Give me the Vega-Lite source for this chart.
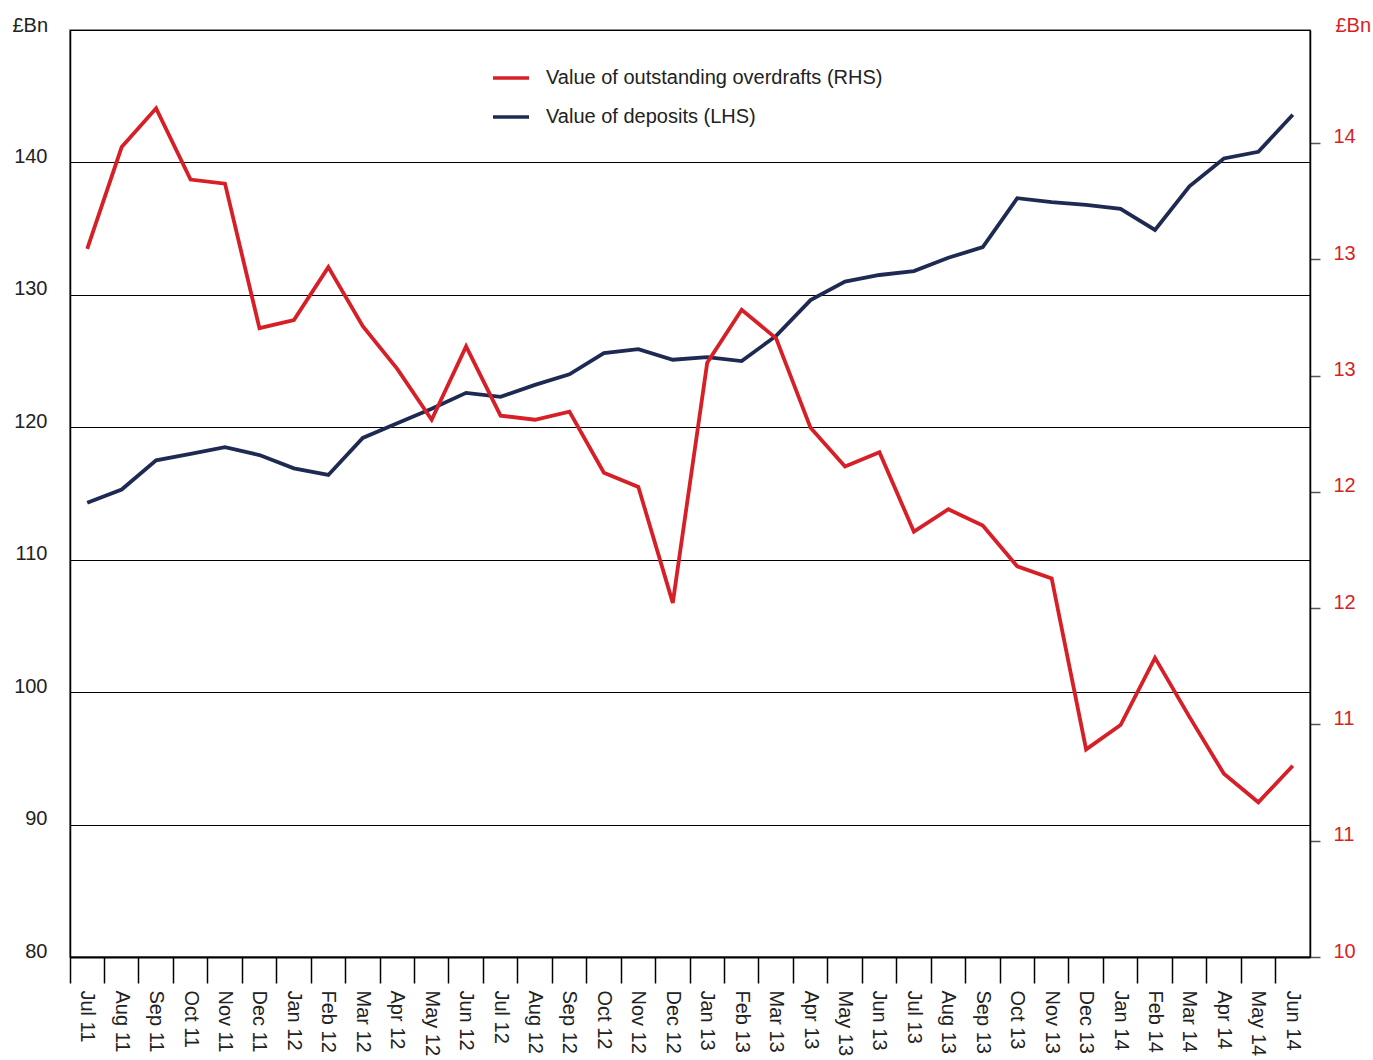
{
  "$schema": "https://vega.github.io/schema/vega-lite/v6.json",
  "width": 1240,
  "height": 927,
  "autosize": {"type": "none"},
  "padding": {"left": 70, "top": 30, "right": 63, "bottom": 103},
  "background": "#ffffff",
  "config": {
    "font": "Liberation Sans",
    "view": {"stroke": "#666666", "strokeWidth": 1.5}
  },
  "data": {
    "values": [
      {"month": "Jul 11", "series": "Value of deposits (LHS)", "value": 114.3},
      {"month": "Aug 11", "series": "Value of deposits (LHS)", "value": 115.3},
      {"month": "Sep 11", "series": "Value of deposits (LHS)", "value": 117.5},
      {"month": "Oct 11", "series": "Value of deposits (LHS)", "value": 118.0},
      {"month": "Nov 11", "series": "Value of deposits (LHS)", "value": 118.5},
      {"month": "Dec 11", "series": "Value of deposits (LHS)", "value": 117.9},
      {"month": "Jan 12", "series": "Value of deposits (LHS)", "value": 116.9},
      {"month": "Feb 12", "series": "Value of deposits (LHS)", "value": 116.4},
      {"month": "Mar 12", "series": "Value of deposits (LHS)", "value": 119.2},
      {"month": "Apr 12", "series": "Value of deposits (LHS)", "value": 120.3},
      {"month": "May 12", "series": "Value of deposits (LHS)", "value": 121.4},
      {"month": "Jun 12", "series": "Value of deposits (LHS)", "value": 122.6},
      {"month": "Jul 12", "series": "Value of deposits (LHS)", "value": 122.3},
      {"month": "Aug 12", "series": "Value of deposits (LHS)", "value": 123.2},
      {"month": "Sep 12", "series": "Value of deposits (LHS)", "value": 124.0},
      {"month": "Oct 12", "series": "Value of deposits (LHS)", "value": 125.6},
      {"month": "Nov 12", "series": "Value of deposits (LHS)", "value": 125.9},
      {"month": "Dec 12", "series": "Value of deposits (LHS)", "value": 125.1},
      {"month": "Jan 13", "series": "Value of deposits (LHS)", "value": 125.3},
      {"month": "Feb 13", "series": "Value of deposits (LHS)", "value": 125.0},
      {"month": "Mar 13", "series": "Value of deposits (LHS)", "value": 126.9},
      {"month": "Apr 13", "series": "Value of deposits (LHS)", "value": 129.6},
      {"month": "May 13", "series": "Value of deposits (LHS)", "value": 131.0},
      {"month": "Jun 13", "series": "Value of deposits (LHS)", "value": 131.5},
      {"month": "Jul 13", "series": "Value of deposits (LHS)", "value": 131.8},
      {"month": "Aug 13", "series": "Value of deposits (LHS)", "value": 132.8},
      {"month": "Sep 13", "series": "Value of deposits (LHS)", "value": 133.6},
      {"month": "Oct 13", "series": "Value of deposits (LHS)", "value": 137.3},
      {"month": "Nov 13", "series": "Value of deposits (LHS)", "value": 137.0},
      {"month": "Dec 13", "series": "Value of deposits (LHS)", "value": 136.8},
      {"month": "Jan 14", "series": "Value of deposits (LHS)", "value": 136.5},
      {"month": "Feb 14", "series": "Value of deposits (LHS)", "value": 134.9},
      {"month": "Mar 14", "series": "Value of deposits (LHS)", "value": 138.2},
      {"month": "Apr 14", "series": "Value of deposits (LHS)", "value": 140.3},
      {"month": "May 14", "series": "Value of deposits (LHS)", "value": 140.8},
      {"month": "Jun 14", "series": "Value of deposits (LHS)", "value": 143.6},
      {"month": "Jul 11", "series": "Value of outstanding overdrafts (RHS)", "value": 13.48},
      {"month": "Aug 11", "series": "Value of outstanding overdrafts (RHS)", "value": 13.98},
      {"month": "Sep 11", "series": "Value of outstanding overdrafts (RHS)", "value": 14.17},
      {"month": "Oct 11", "series": "Value of outstanding overdrafts (RHS)", "value": 13.82},
      {"month": "Nov 11", "series": "Value of outstanding overdrafts (RHS)", "value": 13.80},
      {"month": "Dec 11", "series": "Value of outstanding overdrafts (RHS)", "value": 13.09},
      {"month": "Jan 12", "series": "Value of outstanding overdrafts (RHS)", "value": 13.13},
      {"month": "Feb 12", "series": "Value of outstanding overdrafts (RHS)", "value": 13.39},
      {"month": "Mar 12", "series": "Value of outstanding overdrafts (RHS)", "value": 13.10},
      {"month": "Apr 12", "series": "Value of outstanding overdrafts (RHS)", "value": 12.89},
      {"month": "May 12", "series": "Value of outstanding overdrafts (RHS)", "value": 12.64},
      {"month": "Jun 12", "series": "Value of outstanding overdrafts (RHS)", "value": 13.00},
      {"month": "Jul 12", "series": "Value of outstanding overdrafts (RHS)", "value": 12.66},
      {"month": "Aug 12", "series": "Value of outstanding overdrafts (RHS)", "value": 12.64},
      {"month": "Sep 12", "series": "Value of outstanding overdrafts (RHS)", "value": 12.68},
      {"month": "Oct 12", "series": "Value of outstanding overdrafts (RHS)", "value": 12.38},
      {"month": "Nov 12", "series": "Value of outstanding overdrafts (RHS)", "value": 12.31},
      {"month": "Dec 12", "series": "Value of outstanding overdrafts (RHS)", "value": 11.74},
      {"month": "Jan 13", "series": "Value of outstanding overdrafts (RHS)", "value": 12.92},
      {"month": "Feb 13", "series": "Value of outstanding overdrafts (RHS)", "value": 13.18},
      {"month": "Mar 13", "series": "Value of outstanding overdrafts (RHS)", "value": 13.04},
      {"month": "Apr 13", "series": "Value of outstanding overdrafts (RHS)", "value": 12.60},
      {"month": "May 13", "series": "Value of outstanding overdrafts (RHS)", "value": 12.41},
      {"month": "Jun 13", "series": "Value of outstanding overdrafts (RHS)", "value": 12.48},
      {"month": "Jul 13", "series": "Value of outstanding overdrafts (RHS)", "value": 12.09},
      {"month": "Aug 13", "series": "Value of outstanding overdrafts (RHS)", "value": 12.20},
      {"month": "Sep 13", "series": "Value of outstanding overdrafts (RHS)", "value": 12.12},
      {"month": "Oct 13", "series": "Value of outstanding overdrafts (RHS)", "value": 11.92},
      {"month": "Nov 13", "series": "Value of outstanding overdrafts (RHS)", "value": 11.86},
      {"month": "Dec 13", "series": "Value of outstanding overdrafts (RHS)", "value": 11.02},
      {"month": "Jan 14", "series": "Value of outstanding overdrafts (RHS)", "value": 11.14},
      {"month": "Feb 14", "series": "Value of outstanding overdrafts (RHS)", "value": 11.47},
      {"month": "Mar 14", "series": "Value of outstanding overdrafts (RHS)", "value": 11.18},
      {"month": "Apr 14", "series": "Value of outstanding overdrafts (RHS)", "value": 10.90},
      {"month": "May 14", "series": "Value of outstanding overdrafts (RHS)", "value": 10.76},
      {"month": "Jun 14", "series": "Value of outstanding overdrafts (RHS)", "value": 10.94}
    ]
  },
  "encoding": {
    "x": {
      "field": "month",
      "type": "nominal",
      "sort": null,
      "scale": {"type": "band", "paddingInner": 0, "paddingOuter": 0},
      "axis": {
        "title": null,
        "bandPosition": 0,
        "labelAngle": 90,
        "labelAlign": "left",
        "labelBaseline": "middle",
        "labelPadding": 7,
        "labelFontSize": 20,
        "labelColor": "#222222",
        "labelFont": "Liberation Sans",
        "tickSize": 26,
        "tickColor": "#000000",
        "tickWidth": 1.5,
        "domainColor": "#000000",
        "domainWidth": 2,
        "grid": false
      }
    },
    "color": {
      "field": "series",
      "type": "nominal",
      "scale": {
        "domain": ["Value of outstanding overdrafts (RHS)", "Value of deposits (LHS)"],
        "range": ["#d71f27", "#1e2a52"]
      },
      "legend": {
        "title": null,
        "orient": "none",
        "legendX": 421,
        "legendY": 28,
        "padding": 0,
        "symbolType": "stroke",
        "symbolSize": 1296,
        "symbolStrokeWidth": 3.5,
        "labelFontSize": 20,
        "labelFont": "Liberation Sans",
        "labelColor": "#222222",
        "labelOffset": 15,
        "rowPadding": 9,
        "labelLimit": 600
      }
    }
  },
  "layer": [
    {
      "transform": [{"filter": "datum.series === 'Value of deposits (LHS)'"}],
      "mark": {"type": "line", "strokeWidth": 3.8},
      "encoding": {
        "y": {
          "field": "value",
          "type": "quantitative",
          "scale": {"domain": [80, 150], "nice": false, "zero": false},
          "axis": {
            "orient": "left",
            "values": [80, 90, 100, 110, 120, 130, 140, 150],
            "labelExpr": "datum.value == 150 ? '' : datum.label",
            "title": "£Bn",
            "titleAngle": 0,
            "titleAlign": "left",
            "titleBaseline": "alphabetic",
            "titleX": -58,
            "titleY": 1,
            "titleFontSize": 20,
            "titleFontWeight": "normal",
            "titleColor": "#222222",
            "titleFont": "Liberation Sans",
            "labelFontSize": 20,
            "labelColor": "#222222",
            "labelFont": "Liberation Sans",
            "labelBaseline": "alphabetic",
            "labelPadding": 23,
            "ticks": false,
            "grid": true,
            "gridColor": "#000000",
            "gridWidth": 1,
            "domainColor": "#000000",
            "domainWidth": 1.5
          }
        }
      }
    },
    {
      "transform": [{"filter": "datum.series === 'Value of outstanding overdrafts (RHS)'"}],
      "mark": {"type": "line", "strokeWidth": 3.8},
      "encoding": {
        "y": {
          "field": "value",
          "type": "quantitative",
          "scale": {"domain": [10, 14.555], "nice": false, "zero": false},
          "axis": {
            "orient": "right",
            "values": [10, 10.5714, 11.1429, 11.7143, 12.2857, 12.8571, 13.4286, 14],
            "format": ".0f",
            "title": "£Bn",
            "titleAngle": 0,
            "titleAlign": "left",
            "titleBaseline": "alphabetic",
            "titleX": 25,
            "titleY": 1,
            "titleFontSize": 20,
            "titleFontWeight": "normal",
            "titleColor": "#d71f27",
            "titleFont": "Liberation Sans",
            "labelFontSize": 20,
            "labelColor": "#d71f27",
            "labelFont": "Liberation Sans",
            "labelBaseline": "alphabetic",
            "labelPadding": 13,
            "ticks": true,
            "tickSize": 10,
            "tickColor": "#555555",
            "tickWidth": 1.5,
            "grid": false,
            "domainColor": "#000000",
            "domainWidth": 1.5
          }
        }
      }
    }
  ],
  "resolve": {"scale": {"y": "independent"}}
}
